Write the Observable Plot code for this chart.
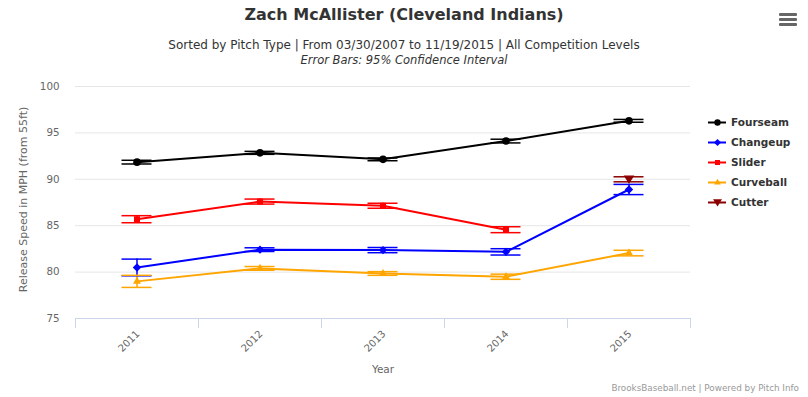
<!DOCTYPE html>
<html>
<head>
<meta charset="utf-8">
<script src="https://cdn.jsdelivr.net/npm/d3@7"></script>
<script src="https://cdn.jsdelivr.net/npm/@observablehq/plot@0.6"></script>
<style>
  html, body { margin: 0; padding: 0; background: #fff; }
  #wrap { position: relative; width: 808px; height: 397px; font-family: "DejaVu Sans", sans-serif; overflow: hidden; }
  #wrap > svg { position: absolute; left: 0; top: 0; }
  .abs { position: absolute; white-space: nowrap; }
  #title { left: 0; width: 808px; top: 5px; text-align: center; font-size: 16px; font-weight: bold; color: #333; }
  #sub1 { left: 0; width: 808px; top: 38px; text-align: center; font-size: 12px; color: #333; }
  #sub2 { left: 0; width: 808px; top: 53px; text-align: center; font-size: 11.5px; color: #333; font-style: italic; }
  #credits { right: 9px; top: 383px; font-size: 8.8px; color: #999; }
  .bar { position: absolute; left: 779px; width: 18px; height: 3px; background: #666; border-radius: 1px; }
  .leg { position: absolute; left: 708px; height: 16px; display: flex; align-items: center; font-size: 10.5px; font-weight: bold; color: #333; }
  #wrap .leg svg { position: static; margin-right: 5px; display: block; }
</style>
</head>
<body>
<div id="wrap">
  <div class="abs" id="title">Zach McAllister (Cleveland Indians)</div>
  <div class="abs" id="sub1">Sorted by Pitch Type | From 03/30/2007 to 11/19/2015 | All Competition Levels</div>
  <div class="abs" id="sub2">Error Bars: 95% Confidence Interval</div>
  <div class="abs" id="credits">BrooksBaseball.net | Powered by Pitch Info</div>
  <div class="bar" style="top:13px"></div>
  <div class="bar" style="top:18px"></div>
  <div class="bar" style="top:23px"></div>
</div>
<script>
const years = [2011, 2012, 2013, 2014, 2015];
const pitches = ["Fourseam", "Changeup", "Slider", "Curveball", "Cutter"];
const colors = ["#000000", "#0000ff", "#ff0000", "#ffa500", "#8b0000"];
const fourseam    = [91.85, 92.85, 92.15, 94.12, 96.3];
const fourseamErr = [0.2, 0.16, 0.15, 0.2, 0.15];
const changeup    = [80.5, 82.42, 82.37, 82.18, 88.9];
const changeupErr = [0.9, 0.2, 0.28, 0.34, 0.55];
const slider      = [85.7, 87.6, 87.15, 84.57, null];
const sliderErr   = [0.38, 0.27, 0.27, 0.32, null];
const curveball   = [79.0, 80.4, 79.85, 79.5, 82.05];
const curveballErr= [0.65, 0.2, 0.2, 0.28, 0.3];
const cutter      = [null, null, null, null, 90.0];
const cutterErr   = [null, null, null, null, 0.27];
const yTicks = [75, 80, 85, 90, 95, 100];
const yLabel = "Release Speed in MPH (from 55ft)";
const xLabel = "Year";

const seriesVals = [fourseam, changeup, slider, curveball, cutter];
const seriesErr = [fourseamErr, changeupErr, sliderErr, curveballErr, cutterErr];

const rows = [];
pitches.forEach((p, i) => {
  years.forEach((y, j) => {
    const v = seriesVals[i][j];
    if (v == null) return;
    const e = seriesErr[i][j];
    rows.push({pitch: p, year: y, v, lo: v - e, hi: v + e});
  });
});

const triDown = {
  draw(ctx, size) {
    const r = Math.sqrt(size / 1.6);
    ctx.moveTo(-r, -r * 0.7);
    ctx.lineTo(r, -r * 0.7);
    ctx.lineTo(0, r * 0.9);
    ctx.closePath();
  }
};
const symbolMap = {Fourseam: "circle", Changeup: "diamond2", Slider: "square2", Curveball: "triangle2", Cutter: triDown};
const symFor = p => symbolMap[p];
const capHalf = 0.122;
const boundaries = [years[0] - 0.5, ...years.map(y => y + 0.5)];

const chart = Plot.plot({
  width: 808,
  height: 397,
  marginTop: 86,
  marginBottom: 79,
  marginLeft: 75,
  marginRight: 118,
  style: {fontFamily: "DejaVu Sans, sans-serif", background: "transparent"},
  x: {domain: [years[0] - 0.5, years[years.length - 1] + 0.5]},
  y: {domain: [75, 100]},
  color: {domain: pitches, range: colors},
  symbol: {domain: pitches, range: pitches.map(symFor)},
  marks: [
    Plot.gridY(yTicks.filter(t => t > 75), {stroke: "#e6e6e6", strokeOpacity: 1}),
    Plot.ruleY([75], {stroke: "#ccd6eb"}),
    Plot.axisX({ticks: boundaries, tickSize: 10, tickFormat: () => "", stroke: "#ccd6eb", strokeOpacity: 1, label: null}),
    Plot.axisY({ticks: yTicks, tickSize: 0, tickPadding: 16, fontSize: 10.3, color: "#666", label: null}),
    Plot.text([yLabel], {frameAnchor: "left", textAnchor: "middle", rotate: -90, dx: -52, dy: -3, fontSize: 11, fill: "#666"}),
    Plot.axisX({ticks: years, tickSize: 0, tickFormat: d => String(d), tickRotate: -45, fontSize: 10, color: "#666", textAnchor: "end", dx: 1, dy: 2, label: null}),
    Plot.text([xLabel], {frameAnchor: "bottom", dy: 54, fontSize: 10.5, fill: "#666"}),
    Plot.line(rows, {x: "year", y: "v", stroke: "pitch", z: "pitch", strokeWidth: 2}),
    Plot.ruleX(rows, {x: "year", y1: "lo", y2: "hi", stroke: "pitch", strokeWidth: 1.5}),
    Plot.ruleY(rows, {y: "lo", x1: d => d.year - capHalf, x2: d => d.year + capHalf, stroke: "pitch", strokeWidth: 1.5}),
    Plot.ruleY(rows, {y: "hi", x1: d => d.year - capHalf, x2: d => d.year + capHalf, stroke: "pitch", strokeWidth: 1.5}),
    Plot.dot(rows, {x: "year", y: "v", fill: "pitch", symbol: "pitch", r: 3.8, stroke: "none"})
  ]
});
const wrap = document.getElementById("wrap");
wrap.insertBefore(chart, wrap.firstChild);

// legend
pitches.forEach((p, i) => {
  const div = document.createElement("div");
  div.className = "leg";
  div.style.top = (114 + i * 20) + "px";
  const sw = Plot.plot({
    width: 18, height: 12, margin: 0,
    x: {domain: [0, 2], axis: null}, y: {domain: [0, 1], axis: null},
    color: {domain: pitches, range: colors},
    symbol: {domain: pitches, range: pitches.map(symFor)},
    style: {background: "transparent"},
    marks: [
      Plot.ruleY([{p}], {y: 0.5, x1: 0, x2: 2, stroke: d => d.p, strokeWidth: 2}),
      Plot.dot([{p}], {x: 1, y: 0.5, fill: d => d.p, symbol: d => d.p, r: 3.2})
    ]
  });
  div.appendChild(sw);
  const t = document.createElement("span");
  t.textContent = p;
  div.appendChild(t);
  wrap.appendChild(div);
});
</script>
</body>
</html>
